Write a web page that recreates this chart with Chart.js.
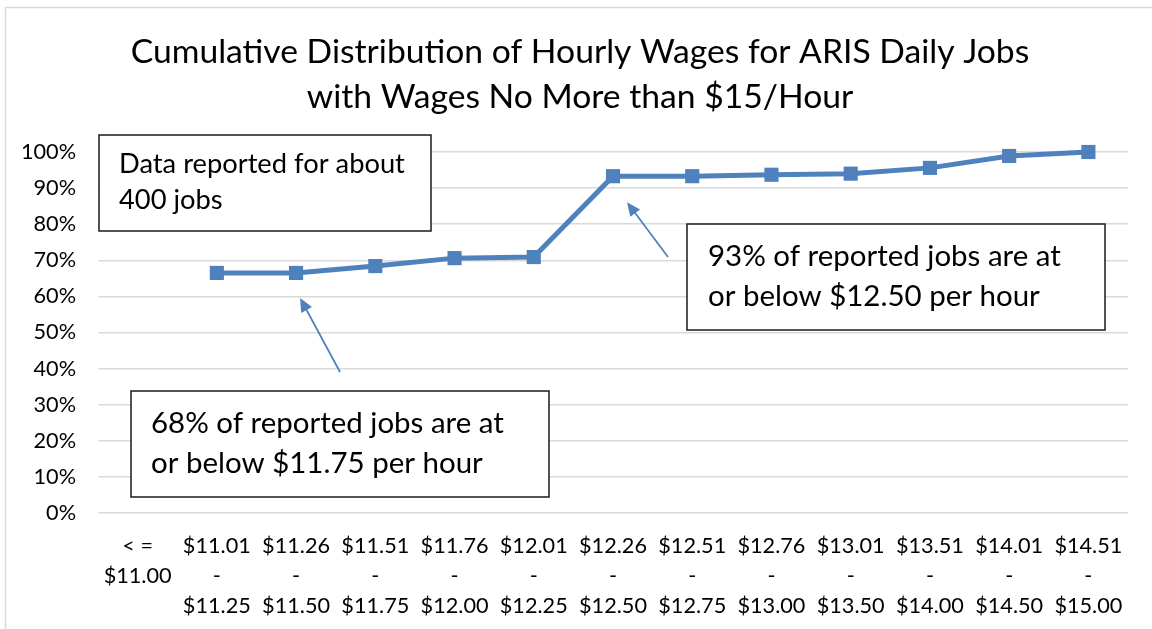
<!DOCTYPE html>
<html>
<head>
	<script type="text/javascript" src="https://cdn.jsdelivr.net/npm/chart.js@4.4.0/dist/chart.umd.min.js"></script>
	<style>
		body { margin: 0; background: #ffffff; }
	</style>
</head>

<body>
	<div style="position: absolute; top: 0px; left: 0px; width: 1152px; height: 629px">
		<canvas id="chartWages"></canvas>
	</div>

	<script type="text/javascript">
		// wage bands (multi-line tick labels)
		var wageBands = [
			["< =", "$11.00"],
			["$11.01", "-", "$11.25"],
			["$11.26", "-", "$11.50"],
			["$11.51", "-", "$11.75"],
			["$11.76", "-", "$12.00"],
			["$12.01", "-", "$12.25"],
			["$12.26", "-", "$12.50"],
			["$12.51", "-", "$12.75"],
			["$12.76", "-", "$13.00"],
			["$13.01", "-", "$13.50"],
			["$13.51", "-", "$14.00"],
			["$14.01", "-", "$14.50"],
			["$14.51", "-", "$15.00"]
		];
		// cumulative share of jobs, percent (first band has no marker in the original)
		var cumulativePct = [null, 66.5, 66.5, 68.4, 70.6, 70.9, 93.3, 93.3, 93.7, 94.0, 95.6, 98.9, 100];
		var yTicks = [0, 10, 20, 30, 40, 50, 60, 70, 80, 90, 100];

		var titleLines = ["Cumulative Distribution of Hourly Wages for ARIS Daily Jobs", "with Wages No More than $15/Hour"];
		var noteData = ["Data reported for about", "400 jobs"];
		var note93 = ["93% of reported jobs are at", "or below $12.50 per hour"];
		var note68 = ["68% of reported jobs are at", "or below $11.75 per hour"];

		var FONT = "Lato, 'Open Sans', sans-serif";
		var blue = '#4F81BD';

		// pick a font size so a string comes out at the width seen in the original
		function fitSize(text, targetWidth) {
			var c = document.createElement('canvas').getContext('2d');
			c.font = '100px ' + FONT;
			return 100 * targetWidth / c.measureText(text).width;
		}

		var titleSize = fitSize(titleLines[0], 899);
		var boxSize1 = fitSize(noteData[0], 286);
		var boxSize2 = fitSize(note93[0], 353);
		var tickSize = fitSize("$11.01", 68);

		// text boxes and arrows (arrow tips placed relative to a data point)
		var notes = [
			{ lines: noteData, size: boxSize1, x: 99, y: 135, w: 332, h: 96, tx: 119, ty: [164, 200] },
			{ lines: note93, size: boxSize2, x: 687, y: 224, w: 418, h: 106, tx: 708, ty: [256, 296],
				arrow: { from: [668, 257], point: 6, dx: 14, dy: 26 } },
			{ lines: note68, size: boxSize2, x: 131, y: 391, w: 418, h: 106, tx: 151, ty: [423, 463],
				arrow: { from: [340, 372], point: 2, dx: 4, dy: 25 } }
		];

		// chart border and the two-line title (centred on the whole chart, as in Excel)
		var frame = {
			id: 'frame',
			beforeDraw: function(chart) {
				var c = chart.ctx;
				c.save();
				c.fillStyle = '#ffffff';
				c.fillRect(0, 0, chart.width, chart.height);
				c.strokeStyle = '#d9d9d9';
				c.lineWidth = 1.5;
				c.strokeRect(5.5, 7.5, 1300, 800);
				c.fillStyle = '#000000';
				c.font = titleSize + 'px ' + FONT;
				c.textAlign = 'center';
				c.textBaseline = 'middle';
				c.fillText(titleLines[0], 580, 52);
				c.fillText(titleLines[1], 580, 97);
				c.restore();
			}
		};

		var annotations = {
			id: 'annotations',
			afterDraw: function(chart) {
				var c = chart.ctx;
				var xs = chart.scales.x, ys = chart.scales.y;
				c.save();
				notes.forEach(function(n) {
					if (n.arrow) {
						var px = xs.getPixelForValue(n.arrow.point) + n.arrow.dx;
						var py = ys.getPixelForValue(cumulativePct[n.arrow.point]) + n.arrow.dy;
						var fx = n.arrow.from[0], fy = n.arrow.from[1];
						var ang = Math.atan2(py - fy, px - fx);
						var head = 15;
						c.strokeStyle = blue;
						c.fillStyle = blue;
						c.lineWidth = 1.75;
						c.beginPath();
						c.moveTo(fx, fy);
						c.lineTo(px - Math.cos(ang) * head * 0.8, py - Math.sin(ang) * head * 0.8);
						c.stroke();
						c.beginPath();
						c.moveTo(px, py);
						c.lineTo(px - head * Math.cos(ang - 0.42), py - head * Math.sin(ang - 0.42));
						c.lineTo(px - head * Math.cos(ang + 0.42), py - head * Math.sin(ang + 0.42));
						c.closePath();
						c.fill();
					}
					c.fillStyle = '#ffffff';
					c.fillRect(n.x, n.y, n.w, n.h);
					c.strokeStyle = '#1a1a1a';
					c.lineWidth = 1.5;
					c.strokeRect(n.x, n.y, n.w, n.h);
					c.fillStyle = '#000000';
					c.font = n.size + 'px ' + FONT;
					c.textAlign = 'left';
					c.textBaseline = 'middle';
					for (var i = 0; i < n.lines.length; i++) {
						c.fillText(n.lines[i], n.tx, n.ty[i]);
					}
				});
				c.restore();
			}
		};

		var ctx = document.getElementById('chartWages').getContext('2d');
		var chart = new Chart(ctx, {
			type: 'line',
			data: {
				labels: wageBands,
				datasets: [{
					label: 'Cumulative share',
					data: cumulativePct,
					borderColor: blue,
					backgroundColor: blue,
					borderWidth: 5,
					pointStyle: 'rect',
					pointRadius: 10,
					pointHoverRadius: 10,
					pointBorderWidth: 0,
					tension: 0,
					clip: false
				}]
			},
			options: {
				responsive: true,
				maintainAspectRatio: false,
				animation: false,
				layout: { padding: { left: 0, right: 24, top: 152, bottom: 0 } },
				plugins: {
					legend: { display: false },
					tooltip: { enabled: false },
					title: { display: false }
				},
				scales: {
					x: {
						offset: true,
						grid: { display: false, drawTicks: false },
						border: { display: false },
						ticks: {
							color: '#000000',
							maxRotation: 0,
							autoSkip: false,
							padding: 18,
							font: { family: FONT, size: tickSize, lineHeight: '30px' }
						},
						afterFit: function(scale) { scale.height = 116; }
					},
					y: {
						min: 0,
						max: 100,
						afterBuildTicks: function(scale) {
							scale.ticks = yTicks.map(function(v) { return { value: v }; });
						},
						grid: { color: '#d9d9d9', lineWidth: 1.5, drawTicks: false },
						border: { display: false },
						ticks: {
							color: '#000000',
							padding: 22,
							font: { family: FONT, size: tickSize },
							callback: function(v) { return v + '%'; }
						},
						afterFit: function(scale) { scale.width = 98; }
					}
				}
			},
			plugins: [frame, annotations]
		});
	</script>
</body>
</html>
